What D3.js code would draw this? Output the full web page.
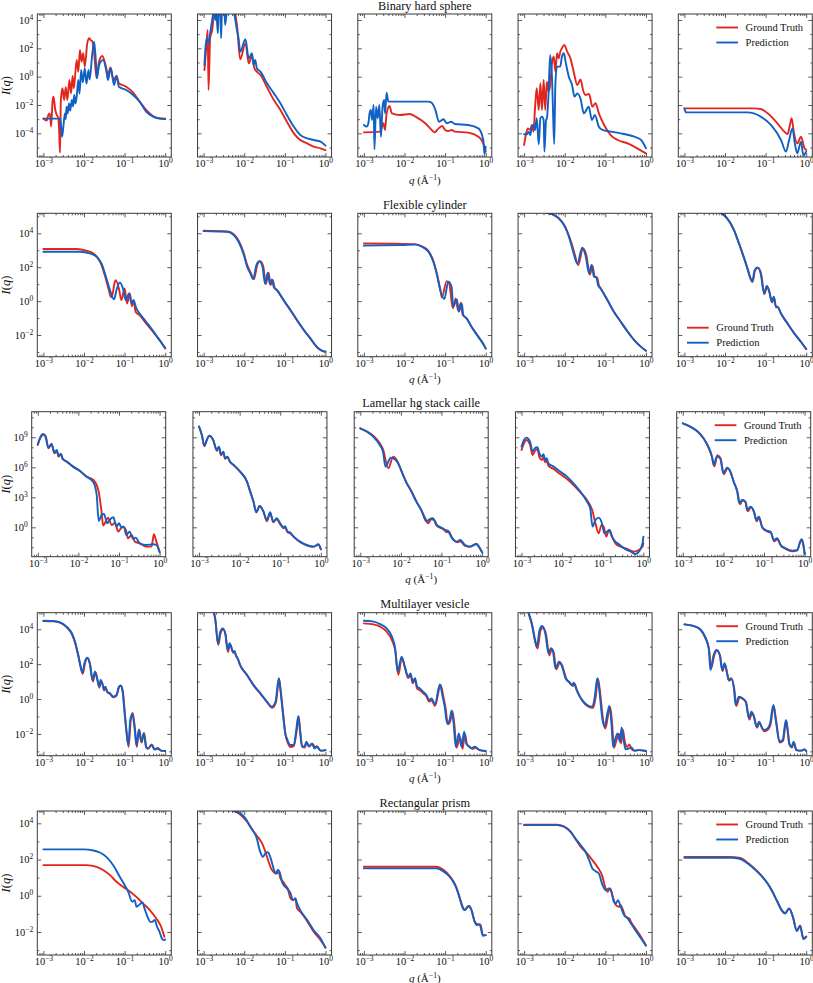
<!DOCTYPE html>
<html><head><meta charset="utf-8">
<script src="https://cdn.jsdelivr.net/npm/d3@7"></script>
<style>
body{margin:0;background:#fff}
svg{display:block}
text{font-family:"Liberation Serif","Times New Roman",serif;fill:#111}
</style>
</head><body>
<svg id="chart" width="813" height="983"></svg>
<script>
// ---------------- DATA (points are [log10 q, log10 I(q)]) ----------------
const rowTitles = ["Binary hard sphere","Flexible cylinder","Lamellar hg stack caille","Multilayer vesicle","Rectangular prism"];
const seriesNames = ["Ground Truth","Prediction"];
const xTickExps = [-3,-2,-1,0];
const xDomainExps = [-3.15,0.15];
const yTickExps = [[-4,-2,0,2,4],[-2,0,2,4],[0,3,6,9],[-2,0,2,4],[-2,0,2,4]];
const yDomainExps = [[-5.67,4.42],[-3.28,5.18],[-2.94,11.56],[-3.25,4.95],[-3.27,4.68]];

// Row 1: Binary hard sphere
const bhs1GT=[[-3.00,-2.96],[-2.92,-3.1],[-2.88,-2.71],[-2.84,-2.59],[-2.81,-3.53],[-2.77,-1.6],[-2.75,-1.41],[-2.71,-2.3],[-2.67,-2.71],[-2.63,-2.94],[-2.61,-4.0],[-2.59,-5.36],[-2.57,-1.65],[-2.53,-0.82],[-2.49,-1.65],[-2.45,-0.75],[-2.41,-1.65],[-2.36,-0.24],[-2.32,-1.18],[-2.28,0.05],[-2.25,-0.82],[-2.18,1.18],[-2.14,0.35],[-2.10,1.88],[-2.06,1.06],[-2.02,1.65],[-1.98,0.71],[-1.92,2.35],[-1.87,2.71],[-1.84,2.59],[-1.79,2.47],[-1.75,1.65],[-1.69,-0.12],[-1.63,1.06],[-1.55,1.46],[-1.46,0.71],[-1.41,0.12],[-1.35,0.64],[-1.27,-0.24],[-1.20,0.05],[-1.14,-0.47],[-0.96,-0.71],[-0.79,-1.13],[-0.63,-1.76],[-0.47,-2.35],[-0.30,-2.78],[-0.14,-2.94],[0,-2.96]];
const bhs1Pred=[[-3.00,-2.96],[-2.59,-2.96],[-2.57,-3.3],[-2.54,-4.24],[-2.51,-3.6],[-2.47,-2.59],[-2.45,-3.0],[-2.43,-2.12],[-2.40,-2.6],[-2.37,-1.9],[-2.34,-2.4],[-2.30,-1.65],[-2.27,-2.1],[-2.24,-1.3],[-2.21,-1.9],[-2.18,-1.41],[-2.14,-0.24],[-2.11,-1.2],[-2.07,0.47],[-2.03,-0.4],[-1.98,0.59],[-1.94,-0.5],[-1.89,0.47],[-1.86,-0.2],[-1.80,1.5],[-1.75,2.47],[-1.71,1.2],[-1.68,-0.12],[-1.63,0.8],[-1.53,1.18],[-1.45,0.4],[-1.41,-0.24],[-1.34,0.59],[-1.26,-0.59],[-1.20,0.05],[-1.14,-0.71],[-0.96,-0.94],[-0.79,-1.29],[-0.63,-1.76],[-0.47,-2.47],[-0.30,-2.82],[-0.14,-2.96],[0,-3.0]];
const bhs2GT=[[-2.98,0.47],[-2.94,1.88],[-2.90,3.29],[-2.88,-0.94],[-2.84,2.71],[-2.79,3.29],[-2.75,4.24],[-2.69,4.7],[-2.30,5.0],[-2.18,3.65],[-2.10,1.22],[-1.97,2.35],[-1.89,0.94],[-1.81,1.46],[-1.75,0.59],[-1.69,0.35],[-1.60,0.12],[-1.44,-0.75],[-1.27,-1.65],[-1.11,-2.35],[-0.95,-3.18],[-0.78,-4.0],[-0.62,-4.47],[-0.45,-4.71],[-0.29,-4.94],[-0.12,-5.06],[0,-5.18]];
const bhs2Pred=[[-2.98,0.82],[-2.96,1.88],[-2.92,2.71],[-2.88,2.35],[-2.84,3.06],[-2.79,4.0],[-2.75,4.6],[-2.71,4.0],[-2.69,4.6],[-2.65,3.06],[-2.63,4.5],[-2.59,4.7],[-2.57,2.71],[-2.55,4.5],[-2.49,4.7],[-2.47,3.65],[-2.42,4.8],[-2.30,5.0],[-2.22,4.0],[-2.18,3.29],[-2.14,2.71],[-2.10,1.76],[-1.97,2.64],[-1.89,1.29],[-1.81,1.65],[-1.77,0.82],[-1.73,1.18],[-1.69,0.59],[-1.60,0.35],[-1.44,-0.47],[-1.27,-1.18],[-1.11,-1.88],[-0.95,-2.71],[-0.78,-3.53],[-0.62,-4.12],[-0.45,-4.35],[-0.29,-4.47],[-0.12,-4.59],[0,-4.87]];
const bhs3GT=[[-3.0,-3.93],[-2.60,-3.88],[-2.52,-3.29],[-2.48,-3.76],[-2.44,-2.59],[-2.37,-2.07],[-2.31,-2.59],[-2.11,-2.71],[-1.87,-2.64],[-1.73,-2.82],[-1.49,-3.29],[-1.33,-3.76],[-1.26,-3.93],[-1.16,-3.65],[-1.07,-3.48],[-1.0,-3.76],[-0.92,-3.84],[-0.84,-3.76],[-0.76,-3.88],[-0.43,-3.95],[-0.18,-4.24],[-0.06,-4.71],[0,-5.29]];
const bhs3Pred=[[-3.0,-3.41],[-2.93,-3.53],[-2.89,-3.29],[-2.86,-2.59],[-2.83,-2.35],[-2.80,-3.06],[-2.76,-2.0],[-2.74,-5.13],[-2.70,-2.12],[-2.66,-2.94],[-2.62,-2.0],[-2.58,-4.24],[-2.54,-2.12],[-2.50,-1.65],[-2.48,-2.59],[-2.44,-1.13],[-2.40,-1.76],[-2.06,-1.76],[-1.41,-1.76],[-1.33,-1.85],[-1.24,-2.35],[-1.15,-3.18],[-1.04,-3.01],[-0.96,-3.29],[-0.85,-3.18],[-0.76,-3.34],[-0.43,-3.41],[-0.18,-3.65],[-0.06,-4.47],[-0.03,-5.46],[0,-4.94]];
const bhs4GT=[[-3.0,-4.82],[-2.95,-4.0],[-2.91,-3.65],[-2.85,-3.76],[-2.81,-3.41],[-2.77,-3.88],[-2.73,-2.12],[-2.69,-0.82],[-2.64,-2.35],[-2.60,-0.47],[-2.56,-2.35],[-2.52,-0.24],[-2.48,-2.35],[-2.44,-0.35],[-2.40,-1.06],[-2.36,-0.59],[-2.31,1.06],[-2.27,1.41],[-2.23,0.35],[-2.19,1.65],[-2.15,1.29],[-2.11,1.76],[-2.07,2.0],[-2.01,2.24],[-1.94,1.76],[-1.86,1.29],[-1.78,0.35],[-1.69,-0.59],[-1.61,-0.19],[-1.55,-0.94],[-1.49,-1.29],[-1.40,-1.22],[-1.32,-2.12],[-1.24,-1.88],[-1.16,-2.59],[-1.03,-3.41],[-0.87,-4.12],[-0.70,-4.47],[-0.45,-4.71],[-0.29,-4.94],[-0.12,-5.22],[0,-5.41]];
const bhs4Pred=[[-3.0,-4.07],[-2.93,-4.07],[-2.89,-3.88],[-2.85,-4.12],[-2.81,-3.53],[-2.77,-3.41],[-2.73,-3.76],[-2.69,-2.94],[-2.64,-4.78],[-2.60,-2.94],[-2.56,-2.82],[-2.52,-3.06],[-2.50,-5.29],[-2.46,-3.06],[-2.44,-2.94],[-2.40,-1.29],[-2.36,1.53],[-2.31,-0.35],[-2.29,-2.35],[-2.26,-4.75],[-2.23,-0.47],[-2.19,0.71],[-2.11,0.71],[-2.07,1.41],[-2.02,1.65],[-1.98,1.06],[-1.90,0.0],[-1.82,-0.59],[-1.76,-1.41],[-1.69,-1.18],[-1.61,-1.58],[-1.53,-2.59],[-1.41,-2.12],[-1.33,-3.06],[-1.26,-2.71],[-1.16,-3.53],[-1.07,-3.76],[-0.87,-3.88],[-0.62,-4.0],[-0.29,-4.24],[-0.12,-4.47],[0,-5.06]];
const bhs5GT=[[-3.0,-2.24],[-1.29,-2.24],[-1.1,-2.3],[-0.95,-2.59],[-0.71,-3.29],[-0.54,-3.88],[-0.46,-4.05],[-0.40,-3.4],[-0.36,-2.94],[-0.30,-4.0],[-0.22,-4.71],[-0.13,-4.24],[-0.04,-5.06],[0,-5.18]];
const bhs5Pred=[[-3.0,-2.24],[-2.96,-2.52],[-1.45,-2.52],[-1.12,-2.82],[-0.87,-3.41],[-0.62,-4.47],[-0.50,-5.29],[-0.42,-4.47],[-0.34,-3.65],[-0.28,-4.71],[-0.22,-5.41],[-0.13,-4.59],[-0.07,-5.53],[0,-5.29]];

// Row 2: Flexible cylinder
const fc1GT=[[-3,3.07],[-2.18,3.07],[-1.94,2.97],[-1.77,2.81],[-1.65,2.52],[-1.57,2.13],[-1.49,1.54],[-1.41,0.85],[-1.34,0.26],[-1.32,0.22],[-1.24,1.14],[-1.22,1.24],[-1.14,0.75],[-1.08,0.06],[-1.00,0.75],[-0.94,-0.14],[-0.87,0.45],[-0.82,-0.30],[-0.78,0.06],[-0.73,-0.63],[-0.63,-0.83],[-0.47,-1.32],[-0.30,-1.81],[-0.14,-2.30],[0,-2.76]];
const fc1Pred=[[-3,2.91],[-2.10,2.91],[-1.86,2.81],[-1.69,2.62],[-1.57,2.22],[-1.46,1.44],[-1.36,0.65],[-1.26,0.10],[-1.20,0.65],[-1.12,1.10],[-1.04,0.75],[-0.97,0.06],[-0.89,0.45],[-0.83,-0.14],[-0.78,0.06],[-0.71,-0.43],[-0.63,-0.73],[-0.47,-1.22],[-0.30,-1.75],[-0.14,-2.30],[0,-2.80]];
const fc2GT=[[-3,4.15],[-2.42,4.11],[-2.26,3.95],[-2.14,3.58],[-2.01,2.82],[-1.93,2.15],[-1.85,1.72],[-1.76,1.3],[-1.68,2.13],[-1.61,2.36],[-1.53,2.03],[-1.47,1.0],[-1.40,1.67],[-1.35,0.95],[-1.30,1.25],[-1.25,0.78],[-1.19,0.62],[-1.03,0.04],[-0.86,-0.55],[-0.70,-1.14],[-0.53,-1.72],[-0.37,-2.22],[-0.21,-2.72],[-0.08,-2.94],[0,-2.99]];
const fc2Pred=[[-3,4.13],[-2.42,4.09],[-2.26,3.90],[-2.14,3.50],[-2.01,2.72],[-1.93,2.03],[-1.85,1.63],[-1.78,1.3],[-1.70,2.13],[-1.63,2.36],[-1.55,2.03],[-1.49,1.04],[-1.42,1.67],[-1.37,1.00],[-1.32,1.28],[-1.27,0.81],[-1.19,0.65],[-1.03,0.06],[-0.86,-0.53],[-0.70,-1.12],[-0.53,-1.71],[-0.37,-2.20],[-0.21,-2.70],[-0.08,-2.93],[0,-2.99]];
const fc3GT=[[-3,3.40],[-2.2,3.38],[-1.73,3.36],[-1.57,3.22],[-1.41,2.95],[-1.29,2.38],[-1.20,1.6],[-1.12,0.7],[-1.08,0.22],[-0.96,1.18],[-0.90,1.05],[-0.81,-0.43],[-0.74,0.16],[-0.68,-0.55],[-0.61,-0.1],[-0.57,-0.8],[-0.47,-1.02],[-0.35,-1.52],[-0.18,-2.11],[-0.02,-2.7],[0,-2.8]];
const fc3Pred=[[-3,3.27],[-2.2,3.30],[-1.73,3.33],[-1.57,3.21],[-1.41,2.91],[-1.29,2.32],[-1.20,1.54],[-1.12,0.65],[-1.02,0.12],[-0.92,1.14],[-0.84,0.85],[-0.80,-0.33],[-0.71,0.10],[-0.66,-0.63],[-0.59,-0.14],[-0.55,-0.83],[-0.47,-1.02],[-0.35,-1.52],[-0.18,-2.11],[-0.02,-2.7],[0,-2.8]];
const fc4GT=[[-3,5.5],[-2.6,5.35],[-2.44,5.2],[-2.27,5.08],[-2.15,4.9],[-2.02,4.52],[-1.94,4.12],[-1.85,3.55],[-1.76,2.81],[-1.67,2.13],[-1.55,3.1],[-1.47,2.72],[-1.38,1.55],[-1.32,2.1],[-1.26,1.44],[-1.20,1.38],[-1.16,0.94],[-1.12,0.78],[-0.95,0.06],[-0.79,-0.63],[-0.62,-1.22],[-0.45,-1.81],[-0.29,-2.30],[-0.12,-2.70],[0,-2.93]];
const fc4Pred=[[-3,5.5],[-2.6,5.35],[-2.44,5.2],[-2.27,5.08],[-2.15,4.88],[-2.02,4.49],[-1.94,4.09],[-1.86,3.50],[-1.78,2.81],[-1.69,2.22],[-1.57,3.15],[-1.49,2.72],[-1.40,1.63],[-1.34,2.13],[-1.28,1.44],[-1.22,1.40],[-1.18,0.94],[-1.12,0.75],[-0.95,0.06],[-0.79,-0.63],[-0.62,-1.22],[-0.45,-1.81],[-0.29,-2.30],[-0.12,-2.70],[0,-2.93]];
const fc5GT=[[-3,6.5],[-2.5,5.8],[-2.2,5.35],[-2.07,5.14],[-1.95,4.9],[-1.78,4.22],[-1.66,3.45],[-1.53,2.56],[-1.45,1.97],[-1.36,1.3],[-1.32,1.14],[-1.26,1.8],[-1.19,1.97],[-1.11,1.6],[-1.03,0.42],[-0.96,0.86],[-0.90,0.5],[-0.84,-0.08],[-0.79,0.22],[-0.74,-0.36],[-0.70,-0.36],[-0.62,-0.75],[-0.46,-1.33],[-0.29,-1.92],[-0.13,-2.41],[0,-2.83]];
const fc5Pred=[[-3,6.5],[-2.5,5.8],[-2.2,5.35],[-2.07,5.14],[-1.95,4.88],[-1.78,4.19],[-1.66,3.41],[-1.53,2.52],[-1.45,1.93],[-1.37,1.3],[-1.33,1.14],[-1.27,1.83],[-1.20,1.99],[-1.12,1.63],[-1.04,0.45],[-0.97,0.89],[-0.91,0.55],[-0.85,-0.04],[-0.80,0.26],[-0.75,-0.33],[-0.71,-0.33],[-0.62,-0.73],[-0.46,-1.32],[-0.29,-1.91],[-0.13,-2.40],[0,-2.83]];

// Row 3: Lamellar hg stack caille
const lam1GT=[[-3.0,8.23],[-2.96,8.73],[-2.90,9.17],[-2.86,9.3],[-2.80,9.07],[-2.74,7.9],[-2.66,8.3],[-2.59,7.4],[-2.53,7.63],[-2.49,7.07],[-2.43,7.3],[-2.39,6.83],[-2.29,6.57],[-2.13,6.07],[-1.96,5.63],[-1.80,5.07],[-1.63,4.73],[-1.51,3.73],[-1.43,1.57],[-1.39,0.17],[-1.31,0.73],[-1.27,0.97],[-1.18,0.23],[-1.10,0.47],[-1.02,-0.43],[-0.91,0.07],[-0.83,-0.27],[-0.78,-1.1],[-0.69,-0.77],[-0.61,-1.43],[-0.49,-1.6],[-0.33,-1.93],[-0.20,-1.93],[-0.14,-0.7],[-0.08,-1.43],[0,-2.43]];
const lam1Pred=[[-3.0,8.3],[-2.95,8.9],[-2.88,9.3],[-2.82,9.15],[-2.74,7.97],[-2.66,8.33],[-2.59,7.47],[-2.53,7.73],[-2.49,7.13],[-2.43,7.37],[-2.39,6.9],[-2.29,6.57],[-2.13,6.07],[-1.96,5.63],[-1.80,5.07],[-1.63,4.5],[-1.55,3.23],[-1.50,0.63],[-1.43,1.23],[-1.37,1.33],[-1.29,0.4],[-1.23,0.73],[-1.14,1.0],[-1.06,0.07],[-1.0,0.4],[-0.94,-0.03],[-0.88,0.07],[-0.82,-0.77],[-0.74,-0.43],[-0.65,-1.17],[-0.59,-1.03],[-0.49,-1.6],[-0.33,-1.77],[-0.16,-1.7],[-0.08,-1.77],[0,-2.5]];
const lam2GT=[[-3,10.07],[-2.93,9.2],[-2.87,8.1],[-2.81,8.7],[-2.75,9.15],[-2.65,8.7],[-2.56,7.65],[-2.51,8.0],[-2.46,7.2],[-2.40,7.5],[-2.36,6.85],[-2.30,7.0],[-2.24,6.55],[-2.15,6.23],[-1.99,5.57],[-1.82,4.57],[-1.74,3.57],[-1.66,2.57],[-1.59,1.5],[-1.51,2.13],[-1.41,1.5],[-1.33,0.6],[-1.25,1.4],[-1.17,0.5],[-1.09,0.8],[-1.0,0.3],[-0.92,-0.1],[-0.88,0.0],[-0.82,-0.5],[-0.76,-0.6],[-0.67,-0.95],[-0.51,-1.5],[-0.35,-1.8],[-0.18,-1.95],[-0.06,-1.75],[0,-2.2]];
const lam2Pred=[[-3,10.07],[-2.93,9.23],[-2.87,8.17],[-2.81,8.73],[-2.75,9.17],[-2.65,8.73],[-2.56,7.73],[-2.51,8.07],[-2.46,7.3],[-2.40,7.57],[-2.36,6.9],[-2.30,7.07],[-2.24,6.57],[-2.15,6.23],[-1.99,5.57],[-1.82,4.57],[-1.74,3.57],[-1.66,2.57],[-1.59,1.5],[-1.51,2.13],[-1.41,1.57],[-1.33,0.73],[-1.25,1.5],[-1.17,0.57],[-1.09,0.9],[-1.0,0.4],[-0.92,-0.03],[-0.88,0.1],[-0.82,-0.43],[-0.76,-0.5],[-0.67,-0.93],[-0.51,-1.43],[-0.35,-1.77],[-0.18,-1.93],[-0.06,-1.7],[0,-2.2]];
const lam3GT=[[-3,9.9],[-2.84,9.6],[-2.68,9.15],[-2.52,8.4],[-2.44,7.8],[-2.31,5.9],[-2.19,7.06],[-2.10,6.7],[-2.03,6.06],[-1.95,5.3],[-1.87,4.55],[-1.74,3.6],[-1.62,2.6],[-1.50,1.73],[-1.37,0.67],[-1.33,0.4],[-1.25,0.8],[-1.17,0.7],[-1.10,0.1],[-1.03,-0.05],[-0.95,-0.2],[-0.87,-0.5],[-0.83,-0.4],[-0.73,-1.1],[-0.60,-1.5],[-0.54,-1.4],[-0.42,-1.85],[-0.30,-1.95],[-0.14,-1.65],[-0.08,-1.95],[0,-2.5]];
const lam3Pred=[[-3,9.9],[-2.84,9.56],[-2.68,9.06],[-2.52,8.23],[-2.44,7.56],[-2.38,6.06],[-2.25,6.96],[-2.15,6.8],[-2.07,6.4],[-2.03,6.06],[-1.95,5.23],[-1.87,4.5],[-1.74,3.57],[-1.62,2.57],[-1.50,1.73],[-1.37,0.57],[-1.29,0.83],[-1.21,0.9],[-1.13,0.23],[-1.05,0.07],[-0.97,-0.1],[-0.91,-0.27],[-0.85,-0.33],[-0.75,-1.03],[-0.62,-1.43],[-0.54,-1.27],[-0.42,-1.77],[-0.30,-1.93],[-0.14,-1.7],[-0.08,-1.93],[0,-2.5]];
const lam4GT=[[-3,7.73],[-2.94,8.4],[-2.88,8.73],[-2.79,8.23],[-2.73,7.23],[-2.67,7.63],[-2.61,7.8],[-2.56,7.0],[-2.50,6.73],[-2.46,7.0],[-2.42,6.5],[-2.38,6.67],[-2.34,6.17],[-2.21,5.83],[-2.05,5.33],[-1.88,4.83],[-1.72,4.23],[-1.55,3.5],[-1.39,2.73],[-1.26,1.73],[-1.18,0.4],[-1.10,-0.6],[-1.03,0.23],[-0.98,0.07],[-0.91,-0.93],[-0.85,-0.27],[-0.79,-0.77],[-0.69,-1.6],[-0.56,-1.93],[-0.40,-2.17],[-0.23,-2.43],[-0.11,-2.27],[-0.02,-1.93],[0,-1.6]];
const lam4Pred=[[-3,8.07],[-2.94,8.73],[-2.88,8.97],[-2.79,8.57],[-2.73,7.57],[-2.67,7.9],[-2.61,8.0],[-2.56,7.4],[-2.50,7.07],[-2.46,7.3],[-2.42,6.73],[-2.38,6.9],[-2.34,6.4],[-2.21,6.07],[-2.05,5.57],[-1.88,5.07],[-1.72,4.4],[-1.55,3.57],[-1.39,2.57],[-1.31,1.9],[-1.25,0.07],[-1.18,0.73],[-1.10,0.97],[-1.02,0.4],[-0.96,-0.6],[-0.89,-0.43],[-0.83,-0.27],[-0.77,-0.93],[-0.69,-1.43],[-0.60,-1.7],[-0.48,-2.1],[-0.31,-2.43],[-0.19,-2.67],[-0.11,-2.43],[-0.02,-1.6],[0,-0.93]];
const lam5GT=[[-3,10.4],[-2.82,10.07],[-2.65,9.63],[-2.49,8.9],[-2.37,8.0],[-2.28,7.0],[-2.22,6.1],[-2.15,7.2],[-2.07,6.9],[-1.99,5.3],[-1.90,5.9],[-1.82,5.5],[-1.74,4.5],[-1.65,3.5],[-1.59,2.3],[-1.53,2.7],[-1.45,2.5],[-1.40,1.6],[-1.32,2.0],[-1.24,1.5],[-1.18,0.6],[-1.12,1.0],[-1.04,-0.05],[-0.95,-0.35],[-0.90,-0.45],[-0.83,-0.55],[-0.75,-1.4],[-0.67,-1.2],[-0.58,-1.85],[-0.47,-2.15],[-0.30,-2.4],[-0.18,-2.3],[-0.11,-1.5],[-0.07,-1.25],[-0.03,-1.8],[0,-2.6]];
const lam5Pred=[[-3,10.4],[-2.82,10.07],[-2.65,9.63],[-2.49,8.9],[-2.37,8.07],[-2.28,7.07],[-2.24,6.23],[-2.16,7.07],[-2.08,6.9],[-2.0,5.4],[-1.91,5.97],[-1.83,5.57],[-1.75,4.57],[-1.66,3.57],[-1.61,2.4],[-1.54,2.73],[-1.46,2.57],[-1.42,1.73],[-1.33,2.07],[-1.25,1.57],[-1.19,0.73],[-1.13,1.07],[-1.05,0.07],[-0.96,-0.27],[-0.91,-0.37],[-0.84,-0.43],[-0.76,-1.27],[-0.68,-1.1],[-0.59,-1.77],[-0.47,-2.1],[-0.30,-2.33],[-0.18,-2.27],[-0.11,-1.43],[-0.07,-1.2],[-0.03,-1.77],[0,-2.67]];

// Row 4: Multilayer vesicle
const mlv1GT=[[-3,4.47],[-2.75,4.45],[-2.59,4.38],[-2.43,4.12],[-2.30,3.72],[-2.22,3.22],[-2.14,2.45],[-2.08,1.8],[-2.03,1.45],[-1.97,2.1],[-1.91,2.35],[-1.85,2.0],[-1.78,1.0],[-1.72,1.55],[-1.67,1.15],[-1.62,0.65],[-1.58,1.05],[-1.53,0.75],[-1.50,0.48],[-1.47,0.68],[-1.42,0.38],[-1.36,0.3],[-1.28,0.1],[-1.20,0.2],[-1.13,0.7],[-1.09,0.78],[-1.04,0.38],[-0.99,-0.9],[-0.95,-1.9],[-0.90,-2.75],[-0.85,-1.25],[-0.80,-0.8],[-0.74,-1.8],[-0.70,-2.75],[-0.64,-1.75],[-0.58,-2.5],[-0.52,-1.95],[-0.46,-2.8],[-0.42,-2.85],[-0.33,-2.6],[-0.26,-2.89],[-0.18,-2.8],[-0.10,-2.96],[0,-2.98]];
const mlv1Pred=[[-3,4.49],[-2.75,4.47],[-2.59,4.40],[-2.43,4.15],[-2.30,3.77],[-2.22,3.29],[-2.14,2.52],[-2.08,1.85],[-2.04,1.51],[-1.98,2.14],[-1.92,2.37],[-1.86,2.05],[-1.79,1.09],[-1.73,1.57],[-1.68,1.19],[-1.63,0.71],[-1.59,1.09],[-1.54,0.80],[-1.51,0.52],[-1.48,0.71],[-1.43,0.42],[-1.36,0.33],[-1.28,0.13],[-1.20,0.23],[-1.14,0.71],[-1.10,0.76],[-1.05,0.42],[-1.0,-0.82],[-0.96,-1.78],[-0.91,-2.64],[-0.86,-1.20],[-0.81,-0.86],[-0.75,-1.78],[-0.71,-2.64],[-0.65,-1.78],[-0.59,-2.45],[-0.53,-1.97],[-0.47,-2.77],[-0.42,-2.83],[-0.34,-2.64],[-0.26,-2.89],[-0.18,-2.85],[-0.10,-2.96],[0,-2.98]];
const mlv2GT=[[-3,7.0],[-2.85,5.8],[-2.75,5.0],[-2.71,4.5],[-2.64,3.1],[-2.58,3.8],[-2.52,4.0],[-2.46,3.7],[-2.40,2.7],[-2.35,3.15],[-2.32,3.0],[-2.27,2.65],[-2.23,2.7],[-2.20,2.47],[-2.16,2.3],[-2.10,1.93],[-1.93,1.36],[-1.77,0.78],[-1.60,0.3],[-1.44,-0.18],[-1.31,-0.5],[-1.22,-0.2],[-1.14,1.15],[-1.10,0.45],[-1.03,-1.1],[-0.98,-2.1],[-0.93,-2.5],[-0.86,-2.75],[-0.78,-2.7],[-0.71,-1.85],[-0.66,-1.0],[-0.62,-1.85],[-0.57,-2.75],[-0.51,-2.78],[-0.46,-2.5],[-0.40,-2.7],[-0.33,-2.55],[-0.29,-2.65],[-0.25,-2.78],[-0.21,-2.7],[-0.12,-2.96],[0,-2.93]];
const mlv2Pred=[[-3,7.0],[-2.85,5.8],[-2.75,5.0],[-2.71,4.53],[-2.65,3.19],[-2.59,3.86],[-2.53,4.05],[-2.47,3.77],[-2.41,2.81],[-2.36,3.20],[-2.33,3.04],[-2.28,2.72],[-2.24,2.75],[-2.21,2.52],[-2.16,2.33],[-2.10,1.95],[-1.93,1.38],[-1.77,0.80],[-1.60,0.33],[-1.44,-0.15],[-1.32,-0.44],[-1.23,-0.15],[-1.15,1.19],[-1.11,0.52],[-1.04,-1.01],[-0.99,-1.97],[-0.95,-2.26],[-0.86,-2.64],[-0.78,-2.64],[-0.72,-1.78],[-0.67,-0.98],[-0.63,-1.78],[-0.58,-2.70],[-0.52,-2.73],[-0.47,-2.45],[-0.41,-2.73],[-0.33,-2.58],[-0.27,-2.83],[-0.21,-2.73],[-0.12,-2.96],[0,-2.93]];
const mlv3GT=[[-3,4.34],[-2.76,4.28],[-2.60,4.15],[-2.44,3.86],[-2.31,3.38],[-2.23,2.81],[-2.15,1.38],[-2.07,2.35],[-1.99,1.8],[-1.91,1.2],[-1.85,1.4],[-1.80,0.9],[-1.74,1.1],[-1.69,0.6],[-1.62,0.5],[-1.54,0.33],[-1.46,0.15],[-1.39,-0.15],[-1.33,-0.08],[-1.25,-0.4],[-1.11,0.8],[-1.04,0.1],[-0.99,-0.5],[-0.93,-1.45],[-0.87,-1.25],[-0.82,-0.7],[-0.77,-1.5],[-0.72,-2.8],[-0.63,-2.2],[-0.57,-2.85],[-0.51,-2.0],[-0.46,-2.6],[-0.39,-2.75],[-0.33,-2.85],[-0.25,-2.8],[-0.15,-2.93],[0,-2.98]];
const mlv3Pred=[[-3,4.49],[-2.76,4.44],[-2.60,4.3],[-2.44,4.05],[-2.31,3.58],[-2.23,2.91],[-2.17,1.57],[-2.07,2.43],[-1.99,1.85],[-1.91,1.28],[-1.85,1.47],[-1.80,0.99],[-1.74,1.19],[-1.69,0.71],[-1.62,0.61],[-1.54,0.42],[-1.46,0.23],[-1.39,-0.06],[-1.33,0.04],[-1.25,-0.30],[-1.13,0.84],[-1.06,0.13],[-1.01,-0.44],[-0.95,-1.40],[-0.89,-1.20],[-0.84,-0.67],[-0.79,-1.40],[-0.74,-2.73],[-0.66,-1.97],[-0.60,-2.73],[-0.53,-1.87],[-0.48,-2.54],[-0.41,-2.73],[-0.35,-2.83],[-0.27,-2.73],[-0.15,-2.93],[0,-2.98]];
const mlv4GT=[[-3,5.8],[-2.89,4.9],[-2.81,4.25],[-2.73,3.3],[-2.67,2.9],[-2.60,3.9],[-2.54,4.1],[-2.46,3.7],[-2.38,2.5],[-2.32,2.85],[-2.27,2.65],[-2.21,1.7],[-2.12,2.1],[-2.06,1.9],[-2.02,1.6],[-1.96,1.15],[-1.88,0.95],[-1.80,0.75],[-1.76,0.88],[-1.69,0.45],[-1.63,0.15],[-1.55,-0.15],[-1.43,-0.42],[-1.30,-0.5],[-1.24,0.1],[-1.18,1.15],[-1.14,0.6],[-1.05,-1.3],[-1.0,-1.7],[-0.93,-0.9],[-0.88,-0.45],[-0.83,-1.5],[-0.79,-2.8],[-0.72,-2.3],[-0.66,-2.0],[-0.61,-2.55],[-0.57,-1.75],[-0.52,-2.45],[-0.46,-2.75],[-0.41,-2.6],[-0.36,-2.85],[-0.29,-2.96],[-0.17,-2.93],[0,-2.98]];
const mlv4Pred=[[-3,5.8],[-2.89,4.95],[-2.81,4.34],[-2.73,3.38],[-2.69,3.0],[-2.62,3.96],[-2.56,4.19],[-2.48,3.77],[-2.40,2.62],[-2.34,2.91],[-2.29,2.72],[-2.23,1.76],[-2.14,2.14],[-2.08,1.95],[-2.04,1.66],[-1.98,1.19],[-1.90,0.99],[-1.82,0.80],[-1.78,0.94],[-1.71,0.52],[-1.65,0.23],[-1.57,-0.06],[-1.45,-0.34],[-1.32,-0.44],[-1.26,0.13],[-1.20,1.19],[-1.16,0.71],[-1.07,-1.20],[-1.02,-1.59],[-0.95,-0.82],[-0.90,-0.40],[-0.85,-1.40],[-0.81,-2.73],[-0.74,-2.16],[-0.70,-1.97],[-0.64,-2.45],[-0.60,-1.63],[-0.55,-2.35],[-0.50,-2.89],[-0.41,-2.83],[-0.36,-2.77],[-0.29,-2.96],[-0.17,-2.93],[0,-2.98]];
const mlv5GT=[[-3,4.28],[-2.78,4.19],[-2.61,3.98],[-2.49,3.52],[-2.39,2.8],[-2.34,1.76],[-2.27,2.45],[-2.20,2.78],[-2.12,2.48],[-2.06,1.6],[-2.0,2.0],[-1.94,1.42],[-1.90,1.05],[-1.84,1.15],[-1.77,0.55],[-1.72,-0.4],[-1.64,0.1],[-1.56,0.0],[-1.48,-0.2],[-1.40,-1.18],[-1.33,-0.78],[-1.28,-1.05],[-1.21,-1.65],[-1.15,-1.35],[-1.09,-1.65],[-1.03,-1.85],[-0.94,-1.75],[-0.88,-1.48],[-0.80,-0.4],[-0.74,-1.25],[-0.65,-2.5],[-0.57,-2.4],[-0.49,-1.25],[-0.45,-1.85],[-0.41,-2.6],[-0.35,-2.78],[-0.30,-2.5],[-0.24,-2.93],[-0.13,-2.96],[-0.04,-2.89],[0,-2.98]];
const mlv5Pred=[[-3,4.28],[-2.78,4.19],[-2.61,4.0],[-2.49,3.58],[-2.40,2.91],[-2.36,1.66],[-2.28,2.52],[-2.21,2.81],[-2.13,2.52],[-2.07,1.66],[-2.01,2.05],[-1.95,1.47],[-1.91,1.09],[-1.85,1.19],[-1.78,0.61],[-1.74,-0.34],[-1.66,0.13],[-1.57,0.04],[-1.49,-0.15],[-1.41,-1.11],[-1.35,-0.73],[-1.29,-1.01],[-1.22,-1.59],[-1.16,-1.30],[-1.10,-1.59],[-1.04,-1.78],[-0.95,-1.68],[-0.89,-1.40],[-0.81,-0.34],[-0.75,-1.20],[-0.66,-2.45],[-0.58,-2.35],[-0.50,-1.20],[-0.46,-1.78],[-0.42,-2.54],[-0.36,-2.73],[-0.31,-2.45],[-0.25,-2.93],[-0.13,-2.96],[-0.04,-2.89],[0,-2.98]];

// Row 5: Rectangular prism
const rp1GT=[[-3,1.69],[-1.94,1.69],[-1.69,1.60],[-1.53,1.42],[-1.36,1.14],[-1.20,0.77],[-1.04,0.50],[-0.87,0.24],[-0.71,-0.06],[-0.55,-0.42],[-0.38,-0.79],[-0.22,-1.25],[-0.10,-1.71],[-0.02,-2.27]];
const rp1Pred=[[-3,2.56],[-2.02,2.56],[-1.77,2.50],[-1.61,2.39],[-1.45,2.15],[-1.28,1.69],[-1.12,1.05],[-1.0,0.59],[-0.91,0.22],[-0.81,-0.33],[-0.75,-0.24],[-0.71,-0.61],[-0.63,-0.48],[-0.56,-0.37],[-0.51,-0.70],[-0.42,-1.25],[-0.37,-1.44],[-0.32,-1.44],[-0.26,-1.34],[-0.20,-1.71],[-0.14,-1.99],[-0.08,-2.36],[-0.04,-2.45],[0,-2.41]];
const rp2GT=[[-3,6.2],[-2.6,5.4],[-2.4,4.95],[-2.26,4.73],[-2.10,4.49],[-1.93,4.09],[-1.77,3.54],[-1.64,3.17],[-1.56,2.89],[-1.48,2.43],[-1.40,1.88],[-1.34,1.51],[-1.27,1.29],[-1.21,1.23],[-1.15,1.29],[-1.11,0.96],[-1.04,0.77],[-0.99,0.59],[-0.93,0.41],[-0.86,-0.15],[-0.80,-0.24],[-0.74,-0.15],[-0.70,-0.70],[-0.62,-0.88],[-0.45,-1.40],[-0.29,-1.99],[-0.12,-2.45],[0,-2.85]];
const rp2Pred=[[-3,6.2],[-2.6,5.4],[-2.4,4.95],[-2.26,4.68],[-2.10,4.55],[-1.97,4.27],[-1.85,3.81],[-1.77,3.54],[-1.69,3.17],[-1.62,2.52],[-1.54,2.15],[-1.48,2.34],[-1.42,2.40],[-1.36,2.15],[-1.29,1.60],[-1.23,1.23],[-1.17,1.42],[-1.11,1.18],[-1.07,0.77],[-1.03,0.59],[-0.95,0.41],[-0.86,0.13],[-0.80,-0.24],[-0.74,-0.15],[-0.70,-0.42],[-0.62,-0.79],[-0.45,-1.34],[-0.29,-1.90],[-0.12,-2.36],[0,-2.87]];
const rp3GT=[[-3,1.60],[-1.21,1.60],[-1.05,1.45],[-0.89,1.10],[-0.80,0.82],[-0.72,0.45],[-0.64,-0.10],[-0.56,-0.65],[-0.52,-0.79],[-0.43,-0.58],[-0.35,-0.79],[-0.27,-1.44],[-0.19,-1.58],[-0.13,-1.58],[-0.07,-2.17],[0,-2.17]];
const rp3Pred=[[-3,1.51],[-1.21,1.51],[-1.05,1.36],[-0.89,1.05],[-0.80,0.77],[-0.72,0.41],[-0.64,-0.15],[-0.56,-0.70],[-0.52,-0.79],[-0.41,-0.55],[-0.35,-0.79],[-0.27,-1.44],[-0.23,-1.62],[-0.15,-1.58],[-0.07,-2.21],[0,-2.17]];
const rp4GT=[[-3,3.92],[-2.19,3.92],[-2.02,3.83],[-1.86,3.54],[-1.74,3.15],[-1.61,2.71],[-1.45,2.34],[-1.32,1.97],[-1.20,1.60],[-1.07,1.05],[-1.02,0.59],[-0.95,0.22],[-0.88,0.41],[-0.83,0.04],[-0.74,-0.52],[-0.66,-0.61],[-0.62,-0.52],[-0.58,-0.70],[-0.50,-1.16],[-0.41,-1.25],[-0.37,-1.44],[-0.29,-1.71],[-0.12,-2.27],[0,-2.73]];
const rp4Pred=[[-3,3.90],[-2.19,3.90],[-2.02,3.81],[-1.86,3.54],[-1.74,3.17],[-1.61,2.80],[-1.49,2.43],[-1.40,1.97],[-1.32,1.51],[-1.24,1.36],[-1.16,1.23],[-1.07,0.59],[-0.99,0.31],[-0.91,0.41],[-0.85,0.22],[-0.79,-0.33],[-0.74,-0.42],[-0.69,-0.24],[-0.62,-0.61],[-0.54,-1.07],[-0.45,-1.25],[-0.37,-1.53],[-0.29,-1.80],[-0.12,-2.36],[0,-2.76]];
const rp5GT=[[-3,2.15],[-1.9,2.15],[-1.62,2.09],[-1.45,1.83],[-1.29,1.53],[-1.12,1.15],[-0.95,0.68],[-0.83,0.22],[-0.71,-0.33],[-0.58,-0.86],[-0.52,-0.96],[-0.42,-0.70],[-0.33,-1.14],[-0.23,-1.93],[-0.15,-1.64],[-0.07,-2.36],[0,-2.25]];
const rp5Pred=[[-3,2.10],[-1.85,2.10],[-1.62,2.03],[-1.45,1.79],[-1.29,1.51],[-1.12,1.14],[-0.95,0.68],[-0.83,0.22],[-0.71,-0.33],[-0.58,-0.88],[-0.52,-0.98],[-0.42,-0.70],[-0.33,-1.16],[-0.23,-1.95],[-0.15,-1.66],[-0.07,-2.39],[0,-2.27]];

// Panel grid built from the named arrays
const panelSeries = [
  [[bhs1GT,bhs1Pred],[bhs2GT,bhs2Pred],[bhs3GT,bhs3Pred],[bhs4GT,bhs4Pred],[bhs5GT,bhs5Pred]],
  [[fc1GT,fc1Pred],[fc2GT,fc2Pred],[fc3GT,fc3Pred],[fc4GT,fc4Pred],[fc5GT,fc5Pred]],
  [[lam1GT,lam1Pred],[lam2GT,lam2Pred],[lam3GT,lam3Pred],[lam4GT,lam4Pred],[lam5GT,lam5Pred]],
  [[mlv1GT,mlv1Pred],[mlv2GT,mlv2Pred],[mlv3GT,mlv3Pred],[mlv4GT,mlv4Pred],[mlv5GT,mlv5Pred]],
  [[rp1GT,rp1Pred],[rp2GT,rp2Pred],[rp3GT,rp3Pred],[rp4GT,rp4Pred],[rp5GT,rp5Pred]]
];

// ---------------- LAYOUT / STYLE ----------------
const colors = ["#e3261d","#1161c4"];
const W = 134;
const rowLayout = [
  {top:14,    h:143,   left0:37.3, step:160.25, legend:"top"},
  {top:213.3, h:143.4, left0:37.3, step:160.25, legend:"bottom"},
  {top:411.7, h:145,   left0:31.7, step:161.25, legend:"top"},
  {top:612.7, h:143,   left0:37.3, step:160.25, legend:"top"},
  {top:811,   h:144,   left0:37.3, step:160.25, legend:"top"}
];
const tickColor = "#333";
const svg = d3.select("#chart");
let clipId = 0;

function supLabel(sel, fs, sfs, raise){
  sel.each(function(d){
    const e = Math.round(Math.log10(d));
    const t = d3.select(this);
    t.text(null);
    t.append("tspan").attr("font-size", fs).text("10");
    t.append("tspan").attr("font-size", sfs).attr("dy", -raise).text(e < 0 ? "\u2212" + (-e) : String(e));
  });
}

const x = d3.scaleLog().domain([10**xDomainExps[0], 10**xDomainExps[1]]).range([0, W]);
const xMajor = xTickExps.map(e => 10**e);
const xMinor = [];
for (let e = -4; e <= 0; e++) for (let m = 2; m <= 9; m++) {
  const v = m * 10**e;
  if (v > x.domain()[0] && v < x.domain()[1]) xMinor.push(v);
}

rowLayout.forEach((L, r) => {
  const [ylo, yhi] = yDomainExps[r];
  const y = d3.scaleLog().domain([10**ylo, 10**yhi]).range([L.h, 0]);
  const yMajor = yTickExps[r].map(e => 10**e);
  const yMinor = [];
  for (let e = Math.ceil(ylo); e <= Math.floor(yhi); e++) if (!yTickExps[r].includes(e)) yMinor.push(10**e);

  for (let c = 0; c < 5; c++) {
    const left = L.left0 + c * L.step;
    const g = svg.append("g").attr("transform", `translate(${left},${L.top})`);
    const id = "clip" + (clipId++);
    g.append("clipPath").attr("id", id).append("rect").attr("width", W).attr("height", L.h);

    // lines
    const line = d3.line().x(d => x(d.q)).y(d => y(d.I)).curve(d3.curveMonotoneX);
    const lines = g.append("g").attr("clip-path", `url(#${id})`);
    panelSeries[r][c].forEach((pts, s) => {
      const data = pts.map(p => ({q: 10**p[0], I: 10**p[1]}));
      lines.append("path").datum(data).attr("d", line)
        .attr("fill", "none").attr("stroke", colors[s]).attr("stroke-width", 1.9)
        .attr("stroke-linejoin", "round").attr("stroke-linecap", "round");
    });

    // axes (ticks inward on all sides)
    const mk = (axis, vals, size, fmt) => axis.tickValues(vals).tickSize(size).tickSizeOuter(0).tickFormat(fmt || "");
    const axB = g.append("g").attr("transform", `translate(0,${L.h})`).call(mk(d3.axisBottom(x), xMajor, -4, d => d).tickPadding(3));
    g.append("g").attr("transform", `translate(0,${L.h})`).call(mk(d3.axisBottom(x), xMinor, -2));
    g.append("g").call(mk(d3.axisTop(x), xMajor, -4));
    g.append("g").call(mk(d3.axisTop(x), xMinor, -2));
    const axL = g.append("g").call(mk(d3.axisLeft(y), yMajor, -4, c === 0 ? (d => d) : "").tickPadding(4));
    g.append("g").call(mk(d3.axisLeft(y), yMinor, -2));
    g.append("g").attr("transform", `translate(${W},0)`).call(mk(d3.axisRight(y), yMajor, -4));
    g.append("g").attr("transform", `translate(${W},0)`).call(mk(d3.axisRight(y), yMinor, -2));
    g.selectAll(".domain").remove();
    g.selectAll(".tick line").attr("stroke", tickColor).attr("stroke-width", 0.8);
    g.selectAll(".tick text").attr("font-family", null).attr("font-size", null);

    supLabel(axB.selectAll(".tick text").attr("fill", "#111"), 10.5, 7.5, 4);
    if (c === 0) supLabel(axL.selectAll(".tick text").attr("fill", "#111"), 10.5, 7.5, 4);

    // frame
    g.append("rect").attr("width", W).attr("height", L.h).attr("fill", "none")
      .attr("stroke", "#3a3a3a").attr("stroke-width", 1);

    // legend on last column
    if (c === 4) {
      const lg = g.append("g");
      const lx0 = L.legend === "top" ? 38 : 8.7;
      const ly0 = L.legend === "top" ? 13.5 : L.h - 29;
      seriesNames.forEach((name, s) => {
        const yy = ly0 + s * 15;
        lg.append("line").attr("x1", lx0).attr("x2", lx0 + 21.7).attr("y1", yy).attr("y2", yy)
          .attr("stroke", colors[s]).attr("stroke-width", 1.9);
        lg.append("text").attr("x", lx0 + 29.3).attr("y", yy + 3.6).attr("font-size", 10.5).text(name);
      });
    }

    if (c === 0) {
      // y-axis label
      g.append("text").attr("transform", `translate(${6 - left},${L.h / 2}) rotate(-90)`)
        .attr("text-anchor", "middle").attr("dy", "0.35em").attr("font-size", 12.5)
        .html('<tspan font-style="italic">I</tspan>(<tspan font-style="italic">q</tspan>)');
    }
    if (c === 2) {
      // row title and x label centred on middle panel
      g.append("text").attr("x", W / 2).attr("y", -4.5).attr("text-anchor", "middle")
        .attr("font-size", 12.3).text(rowTitles[r]);
      const xl = g.append("text").attr("x", W / 2).attr("y", L.h + 26.5).attr("text-anchor", "middle").attr("font-size", 11);
      xl.append("tspan").attr("font-style", "italic").text("q");
      xl.append("tspan").text(" (\u00C5");
      xl.append("tspan").attr("font-size", 7.7).attr("dy", -4).text("\u22121");
      xl.append("tspan").attr("dy", 4).text(")");
    }
  }
});
</script>
</body></html>
